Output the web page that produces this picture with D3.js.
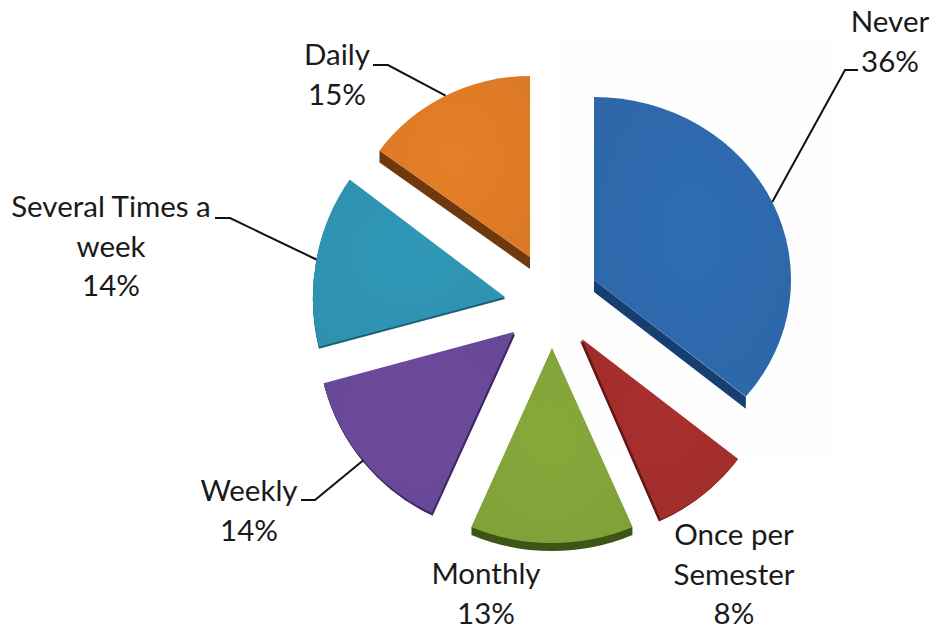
<!DOCTYPE html>
<html>
<head>
<meta charset="utf-8">
<script src="https://cdn.jsdelivr.net/npm/d3@7/dist/d3.min.js"></script>
<style>
html,body{margin:0;padding:0;background:#fff;}
svg{display:block;}
text{font-family:Lato,"Open Sans",sans-serif;font-size:29.5px;fill:#1a1a1a;}
</style>
</head>
<body>
<svg id="chart" width="934" height="629"></svg>
<script>
// Data
const categories = ["Never","Once per Semester","Monthly","Weekly","Several Times a week","Daily"];
const percents = [36,8,13,14,14,15];
const labelLines = [["Never"],["Once per","Semester"],["Monthly"],["Weekly"],["Several Times a","week"],["Daily"]];
const faceColors = ["#2e6aae","#a62e2c","#84a63a","#6a4a99","#2f95b4","#e27d26"];
const sideColors = ["#163e70","#641715","#3c5616","#42286a","#1b6076","#6f380d"];

// Layout of each exploded slice (not data)
const tipX = [594,582,552,514,505,530];
const tipY = [280,339,348,332,297,257];
const radX = [197,197,203,197,192,186];
const radY = [183,197,195,199,200,181];
const tilt = [0,-2,-1.8,-0.5,0,0];
const depthX = [0,-2,0,1,0,0];
const depthY = [12,2,8,3,2,12];
const sideEdge = ["end",null,null,null,null,"start"];
const labelX = [890,734,486,249,111,337];
const labelY = [32,545,584,501,217,65];
const lineHeight = 39.5;
const leaderEnd = [[858,70,845],null,null,[301,500,315],[215,218,230],[373,65,388]];

const svg = d3.select("#chart");
const defs = svg.append("defs");
defs.append("filter").attr("id","soft").attr("x","-20%").attr("y","-20%").attr("width","140%").attr("height","140%")
  .append("feGaussianBlur").attr("stdDeviation",2.5);

faceColors.forEach((c,i)=>{
  const g = defs.append("radialGradient").attr("id","face"+i).attr("cx","50%").attr("cy","45%").attr("r","65%");
  g.append("stop").attr("offset","0%").attr("stop-color",d3.color(c).brighter(0.05));
  g.append("stop").attr("offset","100%").attr("stop-color",d3.color(c).darker(0.08));
});

const pie = d3.pie().sort(null).value(d=>d)(percents);
const arc = d3.arc().innerRadius(0).outerRadius(1);
const place = (i,dx,dy)=>`translate(${tipX[i]+dx},${tipY[i]+dy}) scale(${radX[i]},${radY[i]}) rotate(${tilt[i]})`;
const edgePoint = (i,a)=>{
  const t = a + tilt[i]*Math.PI/180;
  return [tipX[i]+radX[i]*Math.sin(t), tipY[i]-radY[i]*Math.cos(t)];
};

const slices = svg.selectAll("g.slice").data(pie).join("g").attr("class","slice");

// soft shadow
slices.append("path").attr("d",arc)
  .attr("transform",(d,i)=>place(i,sideEdge[i]?0:depthX[i]+1,sideEdge[i]?3:depthY[i]+3))
  .attr("fill","#000").attr("opacity",0.22).attr("filter","url(#soft)");

// side: either along one straight edge, or an extrusion of the whole slice
slices.each(function(d,i){
  const g = d3.select(this);
  if(sideEdge[i]){
    const a = sideEdge[i]==="end" ? d.endAngle : d.startAngle;
    const p = edgePoint(i,a), q = [tipX[i],tipY[i]];
    g.append("path").attr("d",d3.line()([q,p,[p[0],p[1]+depthY[i]],[q[0],q[1]+depthY[i]]])+"Z")
      .attr("fill",sideColors[i]);
    return;
  }
  const n = Math.max(Math.abs(depthX[i]),Math.abs(depthY[i]));
  d3.range(n,0,-1).forEach(k=>{
    g.append("path").attr("d",arc(d))
      .attr("transform",place(i,depthX[i]*k/n,depthY[i]*k/n))
      .attr("fill",sideColors[i]);
  });
});

// top face
slices.append("path").attr("d",arc)
  .attr("transform",(d,i)=>place(i,0,0))
  .attr("fill",(d,i)=>`url(#face${i})`);

// Leader lines start on the slice's outer edge at its middle angle
const leaderLine = d3.line();
leaderEnd.forEach((e,i)=>{
  if(!e) return;
  const p = edgePoint(i,(pie[i].startAngle+pie[i].endAngle)/2);
  svg.append("path").attr("d",leaderLine([[e[0],e[1]],[e[2],e[1]],p]))
    .attr("fill","none").attr("stroke","#111").attr("stroke-width",2);
});

// Labels
categories.forEach((c,i)=>{
  const lines = labelLines[i].concat(percents[i]+"%");
  const t = svg.append("text").attr("text-anchor","middle");
  lines.forEach((s,k)=>{
    t.append("tspan").attr("x",labelX[i]).attr("y",labelY[i]+k*lineHeight).text(s);
  });
});
</script>
</body>
</html>
